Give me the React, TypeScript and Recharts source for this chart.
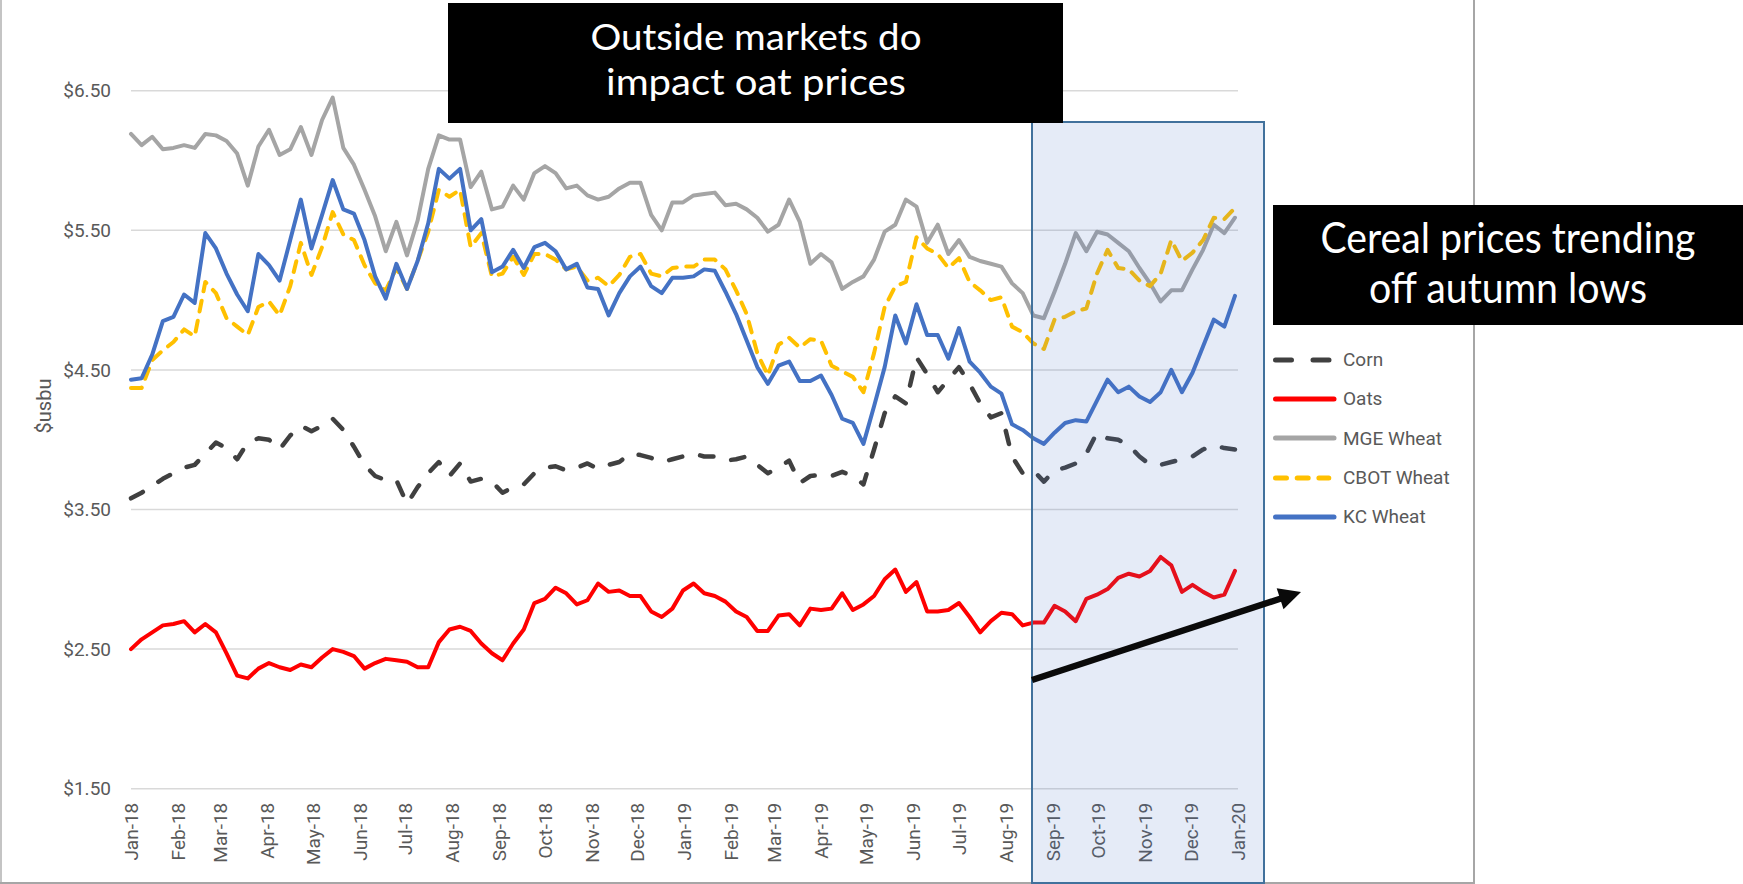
import { LineChart, Line, XAxis, YAxis, CartesianGrid, Legend } from "recharts";

const W = 1743;
const H = 884;

// weekly settlement prices, $/bu, first week of Jan-18 onwards
const START = Date.UTC(2018, 0, 1);
const END = Date.UTC(2020, 0, 1);
const WEEK_MS = 7 * 86400000;

const MONTH_LABELS = [
  "Jan-18", "Feb-18", "Mar-18", "Apr-18", "May-18", "Jun-18", "Jul-18", "Aug-18",
  "Sep-18", "Oct-18", "Nov-18", "Dec-18", "Jan-19", "Feb-19", "Mar-19", "Apr-19",
  "May-19", "Jun-19", "Jul-19", "Aug-19", "Sep-19", "Oct-19", "Nov-19", "Dec-19", "Jan-20",
];
const MONTH_TICKS = MONTH_LABELS.map((_, i) => Date.UTC(2018, i, 1));
const PRICE_TICKS = [1.5, 2.5, 3.5, 4.5, 5.5, 6.5];

const corn = [
  3.58, 3.62, 3.67, 3.72, 3.76, 3.80, 3.82, 3.90, 3.98, 3.94,
  3.86, 3.98, 4.01, 4.00, 3.93, 4.03, 4.10, 4.06, 4.10, 4.15,
  4.07, 3.95, 3.82, 3.74, 3.71, 3.71, 3.54, 3.66, 3.76, 3.84,
  3.74, 3.83, 3.70, 3.72, 3.70, 3.62, 3.66, 3.68, 3.76, 3.80,
  3.81, 3.78, 3.80, 3.83, 3.79, 3.82, 3.84, 3.90, 3.89, 3.87,
  3.84, 3.86, 3.88, 3.90, 3.88, 3.88, 3.85, 3.86, 3.88, 3.82,
  3.76, 3.80, 3.85, 3.69, 3.74, 3.75, 3.74, 3.77, 3.74, 3.68,
  3.93, 4.19, 4.31, 4.26, 4.59, 4.47, 4.34, 4.43, 4.52, 4.40,
  4.26, 4.16, 4.19, 3.88, 3.76, 3.78, 3.70, 3.78, 3.80, 3.83,
  3.90, 4.05, 4.01, 4.00, 3.96, 3.88, 3.82, 3.82, 3.84, 3.86,
  3.88, 3.93, 3.96, 3.94, 3.93,
];

const oats = [
  2.50, 2.57, 2.62, 2.67, 2.68, 2.70, 2.62, 2.68, 2.62, 2.47,
  2.31, 2.29, 2.36, 2.40, 2.37, 2.35, 2.39, 2.37, 2.44, 2.50,
  2.48, 2.45, 2.36, 2.40, 2.43, 2.42, 2.41, 2.37, 2.37, 2.55,
  2.64, 2.66, 2.63, 2.54, 2.47, 2.42, 2.54, 2.64, 2.83, 2.86,
  2.94, 2.90, 2.82, 2.85, 2.97, 2.91, 2.92, 2.88, 2.88, 2.77,
  2.73, 2.79, 2.92, 2.97, 2.90, 2.88, 2.84, 2.77, 2.73, 2.63,
  2.63, 2.74, 2.75, 2.67, 2.79, 2.78, 2.79, 2.90, 2.78, 2.82,
  2.88, 3.00, 3.07, 2.91, 2.98, 2.77, 2.77, 2.78, 2.83, 2.73,
  2.62, 2.70, 2.76, 2.75, 2.67, 2.69, 2.69, 2.81, 2.77, 2.70,
  2.86, 2.89, 2.93, 3.01, 3.04, 3.02, 3.06, 3.16, 3.10, 2.91,
  2.96, 2.91, 2.87, 2.89, 3.06,
];

const mgeWheat = [
  6.19, 6.11, 6.17, 6.08, 6.09, 6.11, 6.09, 6.19, 6.18, 6.14,
  6.05, 5.82, 6.10, 6.22, 6.04, 6.08, 6.24, 6.04, 6.29, 6.45,
  6.09, 5.97, 5.79, 5.60, 5.35, 5.56, 5.32, 5.57, 5.94, 6.18,
  6.15, 6.15, 5.81, 5.92, 5.65, 5.67, 5.82, 5.72, 5.91, 5.96,
  5.91, 5.80, 5.82, 5.75, 5.72, 5.74, 5.80, 5.84, 5.84, 5.61,
  5.50, 5.70, 5.70, 5.75, 5.76, 5.77, 5.68, 5.69, 5.65, 5.59,
  5.49, 5.54, 5.72, 5.56, 5.26, 5.33, 5.27, 5.08, 5.13, 5.17,
  5.29, 5.49, 5.54, 5.72, 5.67, 5.41, 5.54, 5.33, 5.43, 5.31,
  5.28, 5.26, 5.24, 5.12, 5.05, 4.89, 4.87, 5.06, 5.26, 5.48,
  5.35, 5.49, 5.47, 5.41, 5.35, 5.23, 5.12, 4.99, 5.07, 5.07,
  5.22, 5.36, 5.54, 5.48, 5.59,
];

const cbotWheat = [
  4.37, 4.37, 4.57, 4.64, 4.70, 4.79, 4.74, 5.13, 5.05, 4.87,
  4.81, 4.75, 4.95, 4.99, 4.89, 5.10, 5.41, 5.18, 5.38, 5.63,
  5.47, 5.43, 5.25, 5.12, 5.07, 5.23, 5.08, 5.28, 5.49, 5.79,
  5.74, 5.79, 5.38, 5.48, 5.17, 5.19, 5.31, 5.18, 5.33, 5.33,
  5.29, 5.22, 5.24, 5.14, 5.16, 5.10, 5.18, 5.31, 5.33, 5.19,
  5.17, 5.23, 5.24, 5.24, 5.29, 5.29, 5.22, 5.07, 4.90, 4.62,
  4.46, 4.68, 4.73, 4.66, 4.72, 4.71, 4.53, 4.49, 4.45, 4.34,
  4.62, 4.95, 5.10, 5.13, 5.45, 5.37, 5.33, 5.23, 5.30, 5.13,
  5.07, 5.00, 5.02, 4.81, 4.77, 4.69, 4.65, 4.86, 4.88, 4.92,
  4.94, 5.19, 5.36, 5.23, 5.22, 5.14, 5.10, 5.19, 5.43, 5.28,
  5.34, 5.43, 5.59, 5.58, 5.66,
];

const kcWheat = [
  4.43, 4.44, 4.61, 4.85, 4.88, 5.04, 4.98, 5.48, 5.37, 5.19,
  5.04, 4.92, 5.33, 5.25, 5.14, 5.43, 5.72, 5.37, 5.61, 5.86,
  5.65, 5.62, 5.43, 5.17, 5.01, 5.26, 5.08, 5.28, 5.55, 5.94,
  5.87, 5.94, 5.50, 5.58, 5.20, 5.24, 5.36, 5.23, 5.38, 5.41,
  5.35, 5.22, 5.26, 5.09, 5.08, 4.89, 5.05, 5.17, 5.24, 5.10,
  5.05, 5.16, 5.16, 5.17, 5.22, 5.21, 5.06, 4.90, 4.71, 4.52,
  4.40, 4.53, 4.56, 4.42, 4.42, 4.46, 4.32, 4.15, 4.12, 3.97,
  4.24, 4.52, 4.89, 4.69, 4.97, 4.75, 4.75, 4.58, 4.80, 4.56,
  4.48, 4.38, 4.33, 4.11, 4.07, 4.01, 3.97, 4.05, 4.12, 4.14,
  4.13, 4.28, 4.43, 4.34, 4.38, 4.31, 4.27, 4.34, 4.50, 4.34,
  4.48, 4.67, 4.86, 4.81, 5.03,
];

const data = corn.map((c, i) => ({
  t: START + i * WEEK_MS,
  corn: c,
  oats: oats[i],
  mge: mgeWheat[i],
  cbot: cbotWheat[i],
  kc: kcWheat[i],
}));

const SERIES = [
  { key: "corn", name: "Corn", color: "#404040", width: 4.5, dash: "13.5 18.5" },
  { key: "oats", name: "Oats", color: "#FF0000", width: 4, dash: undefined },
  { key: "mge", name: "MGE Wheat", color: "#A5A5A5", width: 4, dash: undefined },
  { key: "cbot", name: "CBOT Wheat", color: "#FFC000", width: 4, dash: "11 9.5" },
  { key: "kc", name: "KC Wheat", color: "#4472C4", width: 4, dash: undefined },
];

const FONT = "Roboto, 'Liberation Sans', sans-serif";
const TITLE_FONT = "Lato, 'Open Sans', sans-serif";
const AXIS_GREY = "#595959";

function MonthTick(props: any) {
  const { x, y, payload } = props;
  const label = MONTH_LABELS[MONTH_TICKS.indexOf(payload.value)];
  return (
    <text
      x={x}
      y={y}
      dx={-14}
      dy="0.35em"
      transform={`rotate(-90, ${x}, ${y})`}
      textAnchor="end"
      fill={AXIS_GREY}
      fontSize={19}
      fontFamily={FONT}
    >
      {label}
    </text>
  );
}

function LegendSample({ s }: { s: (typeof SERIES)[number] }) {
  if (s.key === "corn") {
    return (
      <line x1={2.5} y1={6} x2={56} y2={6} stroke={s.color} strokeWidth={5}
        strokeLinecap="round" strokeDasharray="16 21.5" />
    );
  }
  if (s.key === "cbot") {
    return (
      <line x1={2.5} y1={6} x2={55.8} y2={6} stroke={s.color} strokeWidth={5}
        strokeLinecap="round" strokeDasharray="11 10.7" />
    );
  }
  return <line x1={2.5} y1={6} x2={61} y2={6} stroke={s.color} strokeWidth={5} strokeLinecap="round" />;
}

function SeriesLegend() {
  return (
    <div style={{ fontFamily: FONT, fontSize: 19, color: AXIS_GREY }}>
      {SERIES.map((s) => (
        <div key={s.key} style={{ display: "flex", alignItems: "center", height: 39.3 }}>
          <svg width={64} height={12} style={{ display: "block" }}>
            <LegendSample s={s} />
          </svg>
          <span style={{ marginLeft: 6, whiteSpace: "nowrap" }}>{s.name}</span>
        </div>
      ))}
    </div>
  );
}

export default function App() {
  return (
    <div style={{ position: "absolute", left: 0, top: 0, width: W, height: H, background: "#fff", overflow: "hidden" }}>
      <div style={{ position: "absolute", left: 0, top: 0 }}>
        <LineChart
          width={W}
          height={H}
          data={data}
          margin={{ top: 90.7, right: 505, bottom: 35.3, left: 0 }}
        >
          <CartesianGrid vertical={false} stroke="#D9D9D9" strokeWidth={1.5} />
          <XAxis
            dataKey="t"
            type="number"
            domain={[START, END]}
            ticks={MONTH_TICKS}
            interval={0}
            height={60}
            axisLine={false}
            tickLine={false}
            tickSize={0}
            tickMargin={0}
            tick={<MonthTick />}
          />
          <YAxis
            domain={[1.5, 6.5]}
            ticks={PRICE_TICKS}
            width={131}
            axisLine={false}
            tickLine={false}
            tickSize={8}
            tickMargin={12}
            tickFormatter={(v: number) => `$${v.toFixed(2)}`}
            tick={{ fill: AXIS_GREY, fontSize: 19, fontFamily: FONT }}
          />
          <Legend
            layout="vertical"
            align="center"
            verticalAlign="middle"
            wrapperStyle={{ left: 1273, top: 340, width: 200 }}
            content={() => <SeriesLegend />}
          />
          {SERIES.map((s) => (
            <Line
              key={s.key}
              type="linear"
              dataKey={s.key}
              name={s.name}
              stroke={s.color}
              strokeWidth={s.width}
              strokeDasharray={s.dash}
              strokeLinecap="round"
              strokeLinejoin="round"
              dot={false}
              activeDot={false}
              isAnimationActive={false}
            />
          ))}
        </LineChart>
      </div>

      <svg width={W} height={H} style={{ position: "absolute", left: 0, top: 0, pointerEvents: "none" }}>
        {/* chart frame */}
        <line x1={1} y1={0} x2={1} y2={883} stroke="#C4C4C4" strokeWidth={2} />
        <line x1={0} y1={883} x2={1475} y2={883} stroke="#A6A6A6" strokeWidth={2} />
        <line x1={1474} y1={0} x2={1474} y2={884} stroke="#A6A6A6" strokeWidth={2} />

        <text
          x={44}
          y={406}
          transform="rotate(-90, 44, 406)"
          textAnchor="middle"
          dy="0.35em"
          fill={AXIS_GREY}
          fontSize={20}
          fontFamily={FONT}
        >
          $usbu
        </text>

        {/* highlighted autumn window */}
        <rect x={1032} y={122} width={232} height={761} fill="rgba(68,114,196,0.14)" stroke="#41719C" strokeWidth={2} />

        {/* trend arrow */}
        <line x1={1032} y1={680} x2={1281} y2={598.5} stroke="#0A0A0A" strokeWidth={6.5} />
        <polygon points="1301,592 1283.5,609.3 1276.7,588.3" fill="#0A0A0A" />

        {/* callouts */}
        <rect x={448} y={3} width={615} height={120} fill="#000" />
        <text x={756} y={50} textAnchor="middle" fill="#fff" fontSize={36} fontFamily={TITLE_FONT}
          textLength={331} lengthAdjust="spacingAndGlyphs">
          Outside markets do
        </text>
        <text x={756} y={95} textAnchor="middle" fill="#fff" fontSize={36} fontFamily={TITLE_FONT}
          textLength={300} lengthAdjust="spacingAndGlyphs">
          impact oat prices
        </text>

        <rect x={1273} y={205} width={470} height={120} fill="#000" />
        <text x={1508} y={253} textAnchor="middle" fill="#fff" fontSize={42} fontFamily={TITLE_FONT}
          textLength={375} lengthAdjust="spacingAndGlyphs">
          Cereal prices trending
        </text>
        <text x={1508} y={303} textAnchor="middle" fill="#fff" fontSize={42} fontFamily={TITLE_FONT}
          textLength={278} lengthAdjust="spacingAndGlyphs">
          off autumn lows
        </text>
      </svg>
    </div>
  );
}
